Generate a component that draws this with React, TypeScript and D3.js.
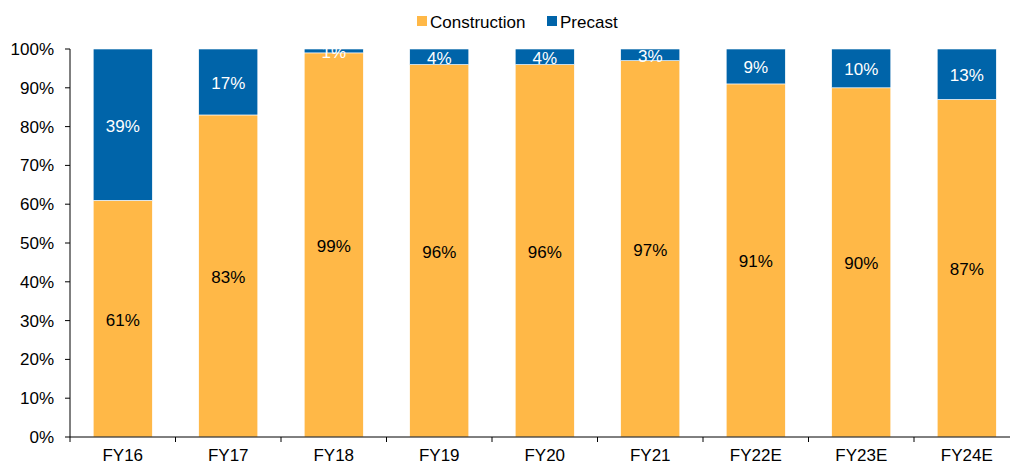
import React from "react";
import * as d3 from "d3";

const categories = ["FY16", "FY17", "FY18", "FY19", "FY20", "FY21", "FY22E", "FY23E", "FY24E"];
const construction = [61, 83, 99, 96, 96, 97, 91, 90, 87];
const precast = [39, 17, 1, 4, 4, 3, 9, 10, 13];
const yTicks = [0, 10, 20, 30, 40, 50, 60, 70, 80, 90, 100];

const W = 1010;
const H = 465;
const left = 70;
const top = 49;
const bottom = 437;
const ORANGE = "#FFB847";
const BLUE = "#0064A9";
const FONT = "'Liberation Sans', Arial, sans-serif";
const FS = 17;

export default function App() {
  const x = d3
    .scaleBand<string>()
    .domain(categories)
    .range([left, left + 9 * 105.5])
    .paddingInner(0.44)
    .paddingOuter(0.22);
  const y = d3.scaleLinear().domain([0, 100]).range([bottom, top]);
  const step = x.step();
  const xEnd = left + 9 * 105.5;

  return (
    <div style={{ position: "fixed", left: 0, top: 0 }}>
      <svg width={W} height={H} style={{ display: "block", background: "#fff" }} fontFamily={FONT}>
        {categories.map((c, i) => {
          const x0 = x(c)!;
          const bw = x.bandwidth();
          const cTop = y(construction[i]);
          const pTop = y(construction[i] + precast[i]);
          return (
            <g key={c}>
              <rect x={x0} y={cTop} width={bw} height={y(0) - cTop} fill={ORANGE} stroke="#fff" strokeWidth={0.6} />
              <rect x={x0} y={pTop} width={bw} height={cTop - pTop} fill={BLUE} stroke="#fff" strokeWidth={0.6} />
              <text x={x0 + bw / 2} y={y(construction[i] / 2) + 7} textAnchor="middle" fontSize={FS} fill="#000">
                {construction[i]}%
              </text>
              <text
                x={x0 + bw / 2}
                y={y(construction[i] + precast[i] / 2) + 7}
                textAnchor="middle"
                fontSize={FS}
                fill="#fff"
              >
                {precast[i]}%
              </text>
            </g>
          );
        })}
        <line x1={left} x2={left} y1={top} y2={bottom} stroke="#000" strokeWidth={1} />
        {yTicks.map((t) => (
          <g key={t}>
            <line x1={left - 5} x2={left} y1={y(t)} y2={y(t)} stroke="#000" strokeWidth={1} />
            <text x={54} y={y(t) + 6} textAnchor="end" fontSize={FS} fill="#000">
              {t}%
            </text>
          </g>
        ))}
        <line x1={left} x2={xEnd} y1={bottom} y2={bottom} stroke="#000" strokeWidth={1} />
        {d3.range(categories.length + 1).map((i) => (
          <line key={i} x1={left + i * step} x2={left + i * step} y1={bottom} y2={bottom + 5} stroke="#000" strokeWidth={1} />
        ))}
        {categories.map((c) => (
          <text key={c} x={x(c)! + x.bandwidth() / 2} y={461} textAnchor="middle" fontSize={FS} fill="#000">
            {c}
          </text>
        ))}
        <rect x={417} y={16} width={10} height={10} fill={ORANGE} />
        <text x={430} y={28} fontSize={FS} fill="#000">Construction</text>
        <rect x={547} y={16} width={10} height={10} fill={BLUE} />
        <text x={560} y={28} fontSize={FS} fill="#000">Precast</text>
      </svg>
    </div>
  );
}
